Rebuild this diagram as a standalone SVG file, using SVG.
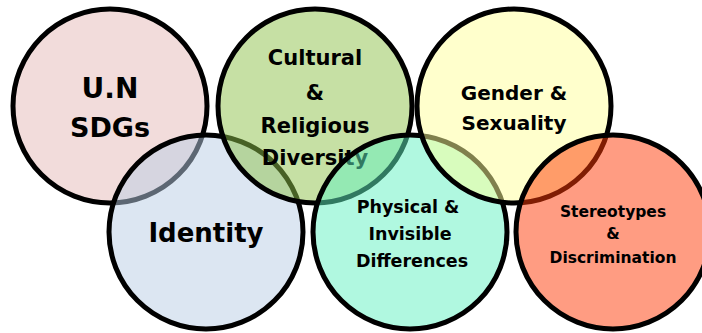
<svg xmlns="http://www.w3.org/2000/svg" width="702" height="333" viewBox="0 0 702 333">
<style>
.c{stroke:#000;stroke-width:5;fill-opacity:0.5}
text{font-family:"Comic Sans MS","DejaVu Sans",sans-serif;font-weight:bold;fill:#000;text-anchor:middle}
</style>
<rect width="702" height="333" fill="#fff"/>
<g id="un-sdgs">
<circle class="c" cx="110" cy="106" r="97" fill="#e5b9b7"/>
<text x="110" y="98" font-size="28">U.N</text>
<text x="110" y="137" font-size="27">SDGs</text>
</g>
<g id="identity">
<circle class="c" cx="206" cy="232" r="97" fill="#b9cde5"/>
<text x="206" y="242" font-size="26">Identity</text>
</g>
<g id="cultural">
<circle class="c" cx="315" cy="106" r="97" fill="#8dc149"/>
<text x="315" y="65" font-size="21">Cultural</text>
<text x="315" y="100" font-size="21">&amp;</text>
<text x="315" y="133" font-size="21">Religious</text>
<text x="315" y="165" font-size="21">Diversity</text>
</g>
<g id="physical">
<circle class="c" cx="410" cy="232" r="97" fill="#61f1c1"/>
<text x="408" y="213" font-size="17.5">Physical &amp;</text>
<text x="410" y="240" font-size="17.5">Invisible</text>
<text x="412" y="267" font-size="17.5">Differences</text>
</g>
<g id="gender">
<circle class="c" cx="514" cy="106" r="97" fill="#ffff99"/>
<text x="514" y="100" font-size="20">Gender &amp;</text>
<text x="514" y="130" font-size="20">Sexuality</text>
</g>
<g id="stereotypes">
<circle class="c" cx="613" cy="232" r="97" fill="#ff3905"/>
<text x="613" y="217" font-size="15.5">Stereotypes</text>
<text x="613" y="239" font-size="15.5">&amp;</text>
<text x="613" y="263" font-size="15.5">Discrimination</text>
</g>
</svg>
